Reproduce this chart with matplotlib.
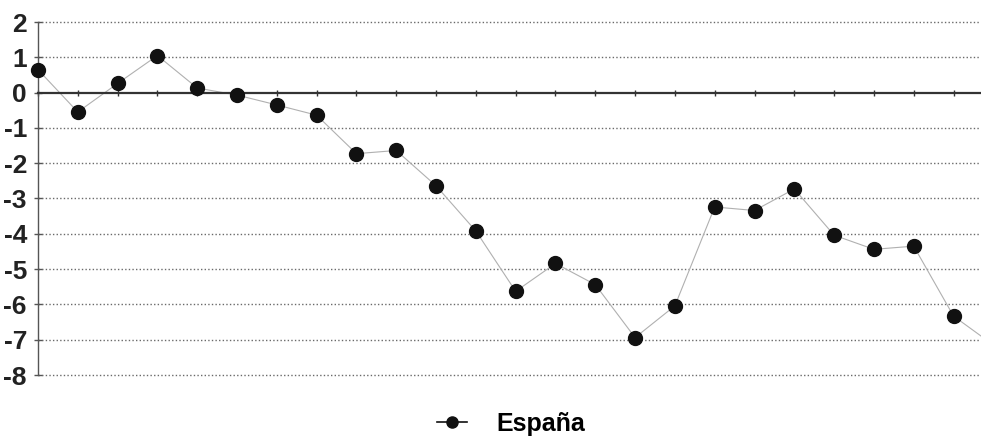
import matplotlib.pyplot as plt
from matplotlib.lines import Line2D

plt.rcParams["font.family"] = ["Liberation Sans", "DejaVu Sans"]
plt.rcParams["axes.unicode_minus"] = False

# serie anual (25 observaciones, la última queda fuera del marco)
periodos = list(range(25))
espana = [0.65, -0.55, 0.26, 1.05, 0.13, -0.07, -0.35, -0.64,
          -1.73, -1.64, -2.64, -3.92, -5.63, -4.84, -5.44, -6.94,
          -6.04, -3.24, -3.34, -2.73, -4.04, -4.44, -4.35, -6.33, -7.15]
y_ticks = [2, 1, 0, -1, -2, -3, -4, -5, -6, -7, -8]

fig = plt.figure(figsize=(9.81, 4.44), dpi=100)
ax = fig.add_axes([38 / 981, 1 - 375 / 444, 1 - 38 / 981, (375 - 22) / 444])

ax.plot(periodos, espana, color="#b0b0b0", lw=0.8, zorder=2, clip_on=False)
ax.plot(periodos, espana, ls="none", marker="o", ms=10, color="#111111",
        zorder=3, clip_on=False)

ax.set_xlim(0, 23.69)
ax.set_ylim(-8, 2)

# líneas de cuadrícula punteadas
for v in y_ticks:
    if v != 0:
        ax.axhline(v, color="#6a6a6a", lw=1.0, ls=(0, (1, 1.6)), zorder=1,
                   clip_on=False)

for side in ("top", "right"):
    ax.spines[side].set_visible(False)
ax.spines["left"].set_color("#555555")
ax.spines["left"].set_linewidth(1.0)
ax.spines["bottom"].set_position(("data", 0))
ax.spines["bottom"].set_color("#333333")
ax.spines["bottom"].set_linewidth(1.6)

ax.set_xticks(periodos[:24])
ax.tick_params(axis="x", direction="inout", length=5, width=1,
               color="#333333", labelbottom=False)
ax.set_yticks(y_ticks)
ax.tick_params(axis="y", direction="inout", length=6, width=1,
               color="#555555", pad=5)
for t in ax.get_yticklabels():
    t.set_fontsize(19)
    t.set_fontweight("bold")
    t.set_color("#222222")

handle = Line2D([], [], color="#111111", lw=1.2, marker="o", ms=8)
fig.legend([handle], ["España"], loc="center",
           bbox_to_anchor=(511 / 981, 1 - 424 / 444),
           frameon=False, prop={"size": 18, "weight": "bold"},
           handlelength=1.2, handletextpad=1.2)

fig.savefig("out.png", dpi=100)
